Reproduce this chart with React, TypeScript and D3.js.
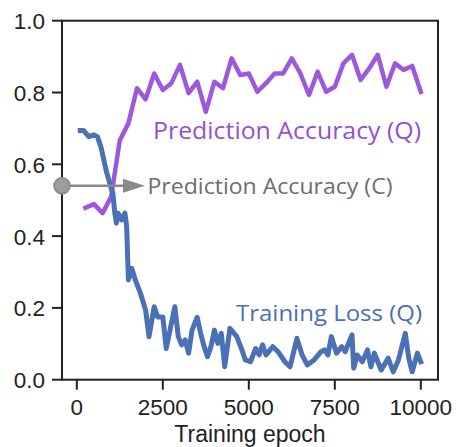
import React from "react";
import * as d3 from "d3";

const accEpochs = [250, 500, 750, 1000, 1250, 1500, 1750, 2000, 2250, 2500, 2750, 3000, 3250, 3500, 3750, 4000, 4250, 4500, 4750, 5000, 5250, 5500, 5750, 6000, 6250, 6500, 6750, 7000, 7250, 7500, 7750, 8000, 8250, 8500, 8750, 9000, 9250, 9500, 9750, 10000];
const accValues = [0.479, 0.489, 0.464, 0.51, 0.667, 0.714, 0.812, 0.781, 0.853, 0.807, 0.826, 0.877, 0.798, 0.83, 0.746, 0.83, 0.812, 0.895, 0.849, 0.853, 0.802, 0.826, 0.853, 0.853, 0.895, 0.853, 0.793, 0.858, 0.802, 0.816, 0.881, 0.905, 0.835, 0.867, 0.905, 0.816, 0.881, 0.863, 0.874, 0.802];

const lossEpochs = [100, 200, 350, 500, 600, 700, 850, 1000, 1050, 1100, 1150, 1200, 1300, 1400, 1450, 1500, 1600, 1700, 1850, 2000, 2100, 2250, 2350, 2500, 2600, 2850, 2950, 3050, 3150, 3250, 3350, 3500, 3600, 3700, 3800, 3900, 4000, 4100, 4200, 4300, 4450, 4650, 4800, 4900, 5050, 5200, 5300, 5400, 5500, 5700, 5850, 6050, 6200, 6400, 6550, 6700, 6900, 7100, 7200, 7300, 7400, 7550, 7700, 7800, 8000, 8050, 8150, 8300, 8450, 8550, 8650, 8750, 8850, 9050, 9200, 9350, 9550, 9650, 9750, 9900, 10000];
const lossValues = [0.694, 0.694, 0.677, 0.682, 0.677, 0.649, 0.584, 0.533, 0.519, 0.468, 0.436, 0.464, 0.445, 0.464, 0.426, 0.278, 0.31, 0.278, 0.241, 0.194, 0.12, 0.203, 0.175, 0.175, 0.087, 0.203, 0.12, 0.097, 0.111, 0.074, 0.138, 0.174, 0.129, 0.092, 0.064, 0.092, 0.138, 0.101, 0.129, 0.036, 0.143, 0.12, 0.083, 0.055, 0.05, 0.087, 0.069, 0.097, 0.069, 0.092, 0.078, 0.05, 0.036, 0.115, 0.069, 0.041, 0.055, 0.078, 0.083, 0.069, 0.12, 0.074, 0.092, 0.078, 0.125, 0.032, 0.069, 0.05, 0.083, 0.036, 0.074, 0.05, 0.027, 0.06, 0.022, 0.055, 0.129, 0.06, 0.022, 0.074, 0.05];

const classicalAcc = 0.54;

const xTicks = [0, 2500, 5000, 7500, 10000];
const yTicks = [0.0, 0.2, 0.4, 0.6, 0.8, 1.0];

const labelAccQ = "Prediction Accuracy (Q)";
const labelAccC = "Prediction Accuracy (C)";
const labelLossQ = "Training Loss (Q)";
const xLabel = "Training epoch";

const PURPLE = "#9b59e0";
const PURPLE_TEXT = "#9450d4";
const BLUE = "#4a70b5";
const GRAY = "#8a8a8a";

export default function App() {
  const W = 456, H = 447;
  const x = d3.scaleLinear().domain([-430, 10500]).range([62, 438]);
  const y = d3.scaleLinear().domain([0, 1]).range([379.7, 20.7]);

  const accLine = d3.line<number>().x((_, i) => x(accEpochs[i])).y((d) => y(d))(accValues) || "";
  const lossLine = d3.line<number>().x((_, i) => x(lossEpochs[i])).y((d) => y(d))(lossValues) || "";

  const [x0, x1] = x.range();
  const [y0, y1] = y.range();
  const cy = y(classicalAcc);
  const cx = x(x.domain()[0]);
  const tickFont = "'Liberation Sans', Arial, Helvetica, sans-serif";
  const annFont = "'Open Sans', Lato, sans-serif";

  return (
    <svg width={W} height={H} style={{ position: "absolute", left: 0, top: 0, background: "#fff" }}>
      <rect x={0} y={0} width={W} height={H} fill="#fff" />
      <path d={accLine} fill="none" stroke={PURPLE} strokeWidth={4.5} strokeLinejoin="round" strokeLinecap="square" />
      <path d={lossLine} fill="none" stroke={BLUE} strokeWidth={5} strokeLinejoin="round" strokeLinecap="square" />

      <rect x={x0} y={y1} width={x1 - x0} height={y0 - y1} fill="none" stroke="#222" strokeWidth={2} />

      {yTicks.map((t) => (
        <g key={"y" + t}>
          <line x1={x0 - 10} x2={x0} y1={y(t)} y2={y(t)} stroke="#222" strokeWidth={2} />
          <text x={45} y={y(t) + 1} textAnchor="end" dominantBaseline="central" fontFamily={tickFont} fontSize={22.5} fill="#222">
            {t.toFixed(1)}
          </text>
        </g>
      ))}
      {xTicks.map((t) => (
        <g key={"x" + t}>
          <line x1={x(t)} x2={x(t)} y1={y0} y2={y0 + 10} stroke="#222" strokeWidth={2} />
          <text x={x(t)} y={415} textAnchor="middle" fontFamily={tickFont} fontSize={22.5} fill="#222">
            {t}
          </text>
        </g>
      ))}
      <text x={(x0 + x1) / 2} y={441.5} textAnchor="middle" fontFamily={tickFont} fontSize={23} fill="#222">
        {xLabel}
      </text>

      <text x={153} y={138.5} fontFamily={annFont} fontSize={23.5} fill={PURPLE_TEXT} textLength={268} lengthAdjust="spacingAndGlyphs">{labelAccQ}</text>
      <text x={147.5} y={194} fontFamily={annFont} fontSize={21.5} fill="#6e6e6e" textLength={245} lengthAdjust="spacingAndGlyphs">{labelAccC}</text>
      <text x={236} y={320.5} fontFamily={annFont} fontSize={22.5} fill={BLUE} textLength={186} lengthAdjust="spacingAndGlyphs">{labelLossQ}</text>

      <line x1={cx} x2={124} y1={cy} y2={cy} stroke={GRAY} strokeWidth={2.5} />
      <polygon points={`145,${cy} 123,${cy - 7} 123,${cy + 7}`} fill={GRAY} />
      <circle cx={cx} cy={cy} r={8} fill="#9c9c9c" stroke="#858585" strokeWidth={1.5} />
    </svg>
  );
}
